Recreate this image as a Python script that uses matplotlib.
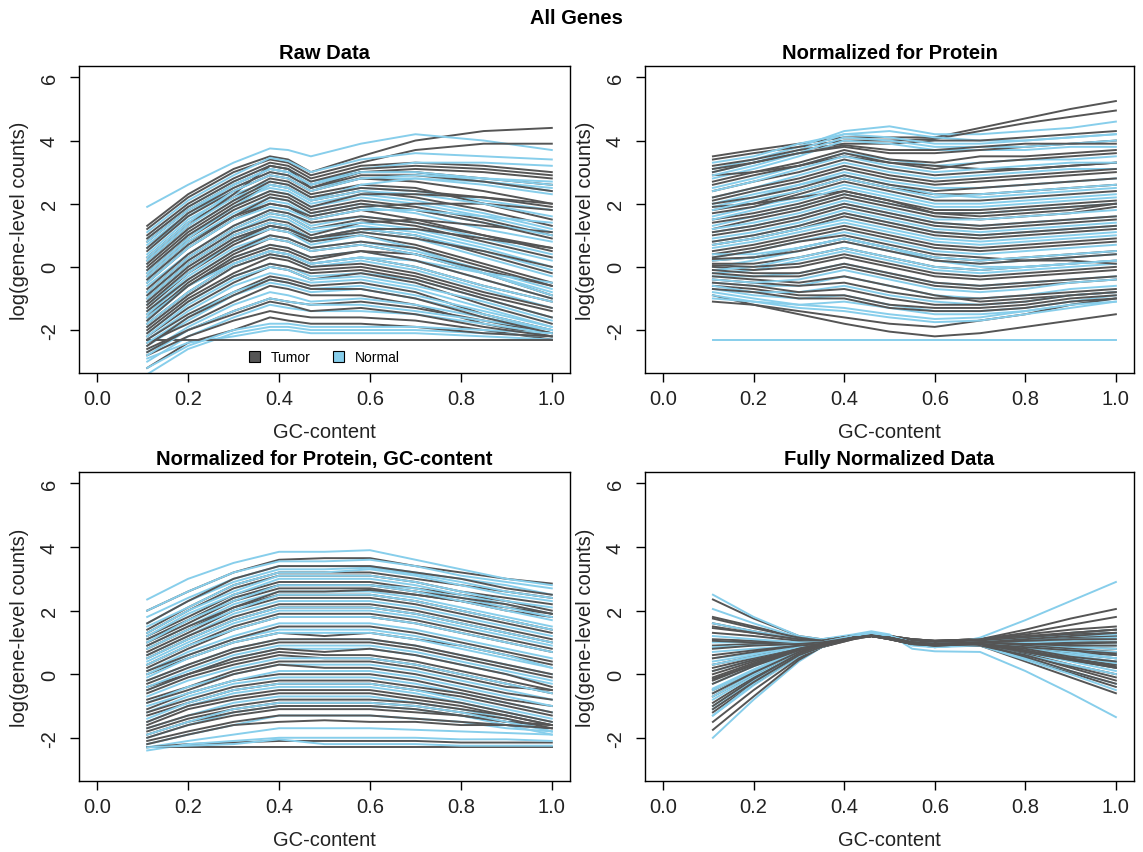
import matplotlib
matplotlib.use("Agg")
import matplotlib.pyplot as plt
from matplotlib.patches import Patch

plt.rcParams['font.family'] = ['Liberation Sans', 'DejaVu Sans']

TUMOR_COLOR = "#555555"
NORMAL_COLOR = "#87CEEB"

# ---------------- Raw Data ----------------
raw_x = [0.11, 0.2, 0.3, 0.38, 0.42, 0.47, 0.58, 0.7, 0.85, 1.0]
raw_tumor = [
    [1.3, 2.3, 3.1, 3.5, 3.4, 3.0, 3.5, 4.0, 4.3, 4.4],
    [1.2, 2.2, 3.0, 3.4, 3.3, 2.9, 3.3, 3.7, 3.9, 3.9],
    [1.0, 2.0, 2.8, 3.3, 3.2, 2.8, 3.2, 3.3, 3.2, 3.0],
    [0.8, 1.8, 2.6, 3.1, 3.0, 2.6, 3.0, 3.1, 3.0, 2.8],
    [0.5, 1.6, 2.4, 2.9, 2.8, 2.4, 2.8, 2.7, 2.4, 2.0],
    [0.3, 1.4, 2.2, 2.8, 2.7, 2.3, 2.6, 2.5, 2.0, 1.5],
    [0.0, 1.1, 2.0, 2.6, 2.5, 2.1, 2.4, 2.2, 1.8, 1.3],
    [-0.2, 0.9, 1.8, 2.3, 2.2, 1.8, 2.1, 1.9, 1.5, 1.0],
    [-0.5, 0.6, 1.5, 2.0, 1.9, 1.5, 1.8, 1.5, 1.0, 0.5],
    [-0.8, 0.3, 1.2, 1.7, 1.6, 1.2, 1.5, 1.3, 0.8, 0.3],
    [-1.0, 0.1, 1.0, 1.4, 1.3, 0.9, 1.2, 1.0, 0.4, -0.2],
    [-1.3, -0.2, 0.7, 1.2, 1.1, 0.8, 1.0, 0.7, 0.1, -0.5],
    [-1.6, -0.5, 0.4, 0.9, 0.8, 0.5, 0.7, 0.4, -0.2, -0.9],
    [-1.8, -0.8, 0.1, 0.5, 0.4, 0.1, 0.3, 0.0, -0.6, -1.1],
    [-2.0, -1.0, -0.2, 0.3, 0.2, -0.1, 0.0, -0.3, -0.9, -1.4],
    [-2.2, -1.3, -0.5, 0.0, -0.1, -0.4, -0.2, -0.5, -1.2, -1.8],
    [-2.3, -1.5, -0.8, -0.3, -0.4, -0.6, -0.5, -0.8, -1.5, -2.0],
    [-2.4, -1.8, -1.1, -0.6, -0.7, -0.9, -0.9, -1.2, -1.8, -2.2],
    [-2.6, -2.0, -1.4, -1.0, -1.1, -1.2, -1.1, -1.3, -1.7, -2.1],
    [-2.8, -2.2, -1.7, -1.4, -1.5, -1.6, -1.6, -1.7, -2.0, -2.3],
    [-3.2, -2.4, -2.0, -1.6, -1.7, -1.8, -1.8, -1.9, -2.1, -2.2],
    [-2.3, -2.3, -2.3, -2.3, -2.3, -2.3, -2.3, -2.3, -2.3, -2.3],
    [0.2, 1.3, 2.3, 3.2, 3.1, 2.5, 3.0, 3.0, 2.8, 2.6],
    [-0.9, 0.2, 1.1, 1.5, 1.4, 1.0, 1.4, 1.5, 1.3, 1.1],
    [-1.5, -0.6, 0.2, 0.6, 0.5, 0.2, 0.5, 0.4, -0.1, -0.6],
    [-0.3, 0.8, 1.6, 2.0, 1.9, 1.6, 1.9, 2.0, 2.0, 1.8],
    [0.6, 1.7, 2.5, 3.0, 2.9, 2.5, 2.9, 2.9, 2.7, 2.4],
    [0.1, 1.2, 2.1, 2.7, 2.6, 2.2, 2.5, 2.4, 2.2, 1.9],
    [-0.4, 0.7, 1.6, 2.2, 2.1, 1.7, 2.0, 1.8, 1.4, 0.9],
    [-0.7, 0.4, 1.3, 1.8, 1.7, 1.4, 1.6, 1.4, 1.0, 0.6],
    [-1.1, 0.0, 0.9, 1.3, 1.2, 0.9, 1.1, 0.9, 0.5, 0.0],
    [-1.4, -0.4, 0.5, 1.0, 0.9, 0.6, 0.8, 0.6, 0.0, -0.6],
    [-1.7, -0.6, 0.3, 0.7, 0.6, 0.3, 0.5, 0.2, -0.4, -1.0],
    [-1.9, -0.9, 0.0, 0.4, 0.3, 0.0, 0.1, -0.2, -0.8, -1.3],
    [-2.1, -1.1, -0.3, 0.1, 0.0, -0.2, -0.1, -0.4, -1.0, -1.6],
    [-2.5, -1.6, -0.9, -0.4, -0.5, -0.7, -0.7, -1.0, -1.6, -2.1],
    [-2.7, -2.0, -1.5, -1.1, -1.2, -1.4, -1.3, -1.5, -1.9, -2.2],
    [0.9, 1.9, 2.7, 3.2, 3.1, 2.7, 3.1, 3.2, 3.1, 2.9],
    [-0.1, 1.0, 1.9, 2.4, 2.3, 1.9, 2.3, 2.3, 2.2, 2.0],
    [-1.2, -0.1, 0.8, 1.3, 1.2, 0.9, 1.2, 1.2, 0.9, 0.6],
]
raw_normal = [
    [1.9, 2.6, 3.3, 3.75, 3.7, 3.5, 3.9, 4.2, 4.0, 3.7],
    [1.1, 2.1, 2.9, 3.45, 3.35, 3.0, 3.4, 3.6, 3.5, 3.4],
    [0.9, 1.9, 2.7, 3.2, 3.1, 2.7, 3.0, 3.0, 2.7, 2.4],
    [0.6, 1.6, 2.5, 3.0, 2.9, 2.5, 2.8, 2.8, 2.6, 2.3],
    [0.4, 1.5, 2.3, 2.7, 2.6, 2.2, 2.5, 2.4, 2.1, 1.8],
    [0.1, 1.2, 2.1, 2.5, 2.4, 2.0, 2.3, 2.1, 1.7, 1.2],
    [-0.1, 1.0, 1.9, 2.4, 2.3, 1.9, 2.2, 2.0, 1.6, 1.1],
    [-0.4, 0.7, 1.6, 2.1, 2.0, 1.6, 1.9, 1.7, 1.2, 0.8],
    [-0.6, 0.4, 1.3, 1.8, 1.7, 1.3, 1.6, 1.4, 0.9, 0.4],
    [-0.9, 0.2, 1.1, 1.6, 1.5, 1.1, 1.3, 1.1, 0.6, 0.0],
    [-1.1, 0.0, 0.9, 1.3, 1.2, 0.8, 1.1, 0.9, 0.3, -0.3],
    [-1.4, -0.3, 0.6, 1.0, 0.9, 0.6, 0.8, 0.5, -0.1, -0.7],
    [-1.7, -0.6, 0.3, 0.7, 0.6, 0.3, 0.5, 0.2, -0.4, -1.0],
    [-1.9, -0.9, 0.0, 0.4, 0.3, 0.0, 0.2, -0.1, -0.7, -1.3],
    [-2.1, -1.1, -0.3, 0.1, 0.0, -0.3, -0.2, -0.4, -1.0, -1.6],
    [-2.3, -1.4, -0.6, -0.2, -0.3, -0.5, -0.4, -0.7, -1.3, -1.9],
    [-2.5, -1.7, -0.9, -0.5, -0.6, -0.8, -0.7, -1.0, -1.5, -2.0],
    [-2.7, -1.9, -1.2, -0.8, -0.9, -1.1, -1.0, -1.2, -1.6, -2.0],
    [-3.0, -2.2, -1.6, -1.2, -1.3, -1.4, -1.4, -1.5, -1.8, -2.1],
    [-3.4, -2.6, -2.1, -1.9, -1.9, -2.0, -2.0, -2.0, -2.1, -2.2],
    [-2.9, -2.4, -2.2, -2.0, -2.0, -2.1, -2.1, -2.1, -2.2, -2.3],
    [-0.2, 0.9, 1.9, 2.6, 2.5, 2.1, 2.6, 2.8, 2.7, 2.5],
    [-1.2, -0.2, 0.8, 1.2, 1.1, 0.7, 1.0, 0.6, -0.2, -0.9],
    [0.7, 1.7, 2.6, 3.1, 3.0, 2.6, 3.1, 3.3, 3.3, 3.2],
    [-1.6, -0.6, 0.1, 0.5, 0.4, 0.1, 0.3, 0.2, -0.2, -0.5],
    [0.8, 1.8, 2.6, 3.1, 3.0, 2.6, 3.0, 3.0, 2.8, 2.6],
    [0.2, 1.3, 2.2, 2.6, 2.5, 2.1, 2.4, 2.3, 2.0, 1.6],
    [-0.3, 0.8, 1.7, 2.2, 2.1, 1.7, 2.0, 1.8, 1.4, 1.0],
    [-0.8, 0.3, 1.2, 1.7, 1.6, 1.2, 1.4, 1.2, 0.7, 0.2],
    [-1.0, 0.1, 1.0, 1.4, 1.3, 0.9, 1.2, 1.0, 0.5, -0.1],
    [-1.5, -0.4, 0.5, 0.9, 0.8, 0.5, 0.7, 0.4, -0.2, -0.8],
    [-1.8, -0.8, 0.1, 0.5, 0.4, 0.1, 0.3, 0.0, -0.6, -1.1],
    [-2.2, -1.2, -0.4, 0.0, -0.1, -0.4, -0.3, -0.6, -1.1, -1.7],
    [-2.4, -1.6, -0.8, -0.4, -0.5, -0.7, -0.6, -0.9, -1.4, -1.9],
    [-2.8, -2.0, -1.4, -1.0, -1.1, -1.2, -1.2, -1.4, -1.7, -2.0],
    [-3.2, -2.5, -2.0, -1.8, -1.8, -1.9, -1.9, -1.9, -2.0, -2.1],
    [0.3, 1.4, 2.4, 2.9, 2.8, 2.4, 2.8, 2.9, 2.8, 2.7],
    [-0.5, 0.6, 1.5, 1.9, 1.8, 1.5, 1.8, 1.8, 1.6, 1.4],
]

# ---------------- Normalized for Protein ----------------
prot_x = [0.11, 0.2, 0.3, 0.4, 0.5, 0.6, 0.7, 0.8, 0.9, 1.0]
prot_tumor = [
    [3.5, 3.7, 3.9, 4.1, 4.1, 4.1, 4.4, 4.7, 5.0, 5.25],
    [3.4, 3.6, 3.8, 4.0, 4.0, 4.05, 4.3, 4.55, 4.75, 4.95],
    [3.2, 3.4, 3.7, 3.9, 3.9, 4.0, 4.0, 4.1, 4.2, 4.3],
    [3.0, 3.3, 3.6, 3.8, 3.6, 3.6, 3.7, 3.8, 3.9, 4.0],
    [2.7, 3.0, 3.3, 3.7, 3.4, 3.3, 3.5, 3.5, 3.6, 3.7],
    [2.4, 2.7, 3.0, 3.4, 3.1, 2.9, 3.0, 3.1, 3.2, 3.3],
    [2.1, 2.4, 2.7, 3.1, 2.8, 2.6, 2.7, 2.8, 2.9, 3.0],
    [1.8, 2.0, 2.4, 2.8, 2.5, 2.3, 2.3, 2.4, 2.5, 2.6],
    [1.5, 1.7, 2.0, 2.4, 2.1, 1.8, 1.8, 1.9, 2.0, 2.1],
    [1.2, 1.5, 1.8, 2.2, 1.9, 1.6, 1.5, 1.6, 1.7, 1.9],
    [1.0, 1.2, 1.5, 1.9, 1.6, 1.3, 1.2, 1.3, 1.4, 1.5],
    [0.7, 0.9, 1.2, 1.6, 1.3, 1.0, 0.9, 1.0, 1.1, 1.2],
    [0.4, 0.6, 0.9, 1.2, 0.9, 0.6, 0.5, 0.6, 0.7, 0.8],
    [0.2, 0.3, 0.6, 0.9, 0.6, 0.3, 0.2, 0.3, 0.4, 0.5],
    [0.1, 0.1, 0.3, 0.6, 0.3, 0.0, -0.1, 0.0, 0.1, 0.2],
    [0.0, -0.1, 0.0, 0.3, 0.0, -0.3, -0.4, -0.3, -0.2, -0.1],
    [-0.2, -0.3, -0.3, 0.0, -0.3, -0.6, -0.7, -0.6, -0.5, -0.4],
    [-0.4, -0.5, -0.6, -0.5, -0.8, -1.0, -1.0, -0.9, -0.8, -0.7],
    [-0.6, -0.7, -0.9, -0.9, -1.2, -1.3, -1.3, -1.2, -1.0, -0.9],
    [-0.9, -1.2, -1.5, -1.8, -2.05, -2.2, -2.1, -1.9, -1.7, -1.5],
    [-1.1, -1.2, -1.4, -1.6, -1.8, -1.9, -1.7, -1.5, -1.2, -1.0],
    [2.9, 3.0, 3.2, 3.5, 3.3, 3.2, 3.1, 3.1, 3.2, 3.3],
    [1.9, 2.0, 2.2, 2.4, 2.1, 1.7, 1.6, 1.7, 1.8, 2.0],
    [0.3, 0.5, 0.8, 1.0, 0.7, 0.4, 0.3, 0.2, 0.2, 0.1],
    [-0.3, -0.4, -0.5, -0.3, -0.6, -0.9, -1.1, -1.0, -0.9, -0.8],
    [3.1, 3.3, 3.6, 3.85, 3.7, 3.7, 3.8, 3.9, 3.9, 3.9],
    [2.6, 2.9, 3.2, 3.6, 3.3, 3.1, 3.3, 3.4, 3.5, 3.6],
    [2.2, 2.5, 2.8, 3.2, 2.9, 2.7, 2.8, 2.9, 3.0, 3.1],
    [1.7, 1.9, 2.3, 2.7, 2.4, 2.1, 2.1, 2.2, 2.3, 2.4],
    [1.4, 1.6, 1.9, 2.3, 2.0, 1.7, 1.7, 1.8, 1.9, 2.0],
    [1.1, 1.3, 1.6, 2.0, 1.7, 1.4, 1.3, 1.4, 1.5, 1.6],
    [0.8, 1.0, 1.3, 1.7, 1.4, 1.1, 1.0, 1.1, 1.2, 1.3],
    [0.5, 0.7, 1.0, 1.3, 1.0, 0.7, 0.6, 0.7, 0.8, 0.9],
    [0.25, 0.3, 0.5, 0.8, 0.5, 0.2, 0.1, 0.2, 0.3, 0.4],
    [0.05, 0.0, 0.1, 0.4, 0.1, -0.2, -0.3, -0.2, -0.1, 0.0],
    [-0.1, -0.2, -0.2, 0.1, -0.2, -0.5, -0.6, -0.5, -0.4, -0.3],
    [-0.5, -0.6, -0.8, -0.7, -1.0, -1.2, -1.2, -1.1, -0.9, -0.8],
    [-0.7, -0.8, -1.0, -1.0, -1.3, -1.4, -1.4, -1.3, -1.1, -1.0],
    [2.0, 2.2, 2.5, 2.9, 2.6, 2.4, 2.5, 2.6, 2.7, 2.8],
]
prot_normal = [
    [3.1, 3.4, 3.8, 4.3, 4.45, 4.2, 4.2, 4.3, 4.4, 4.6],
    [3.0, 3.3, 3.7, 4.2, 4.3, 4.1, 4.0, 4.0, 4.1, 4.2],
    [2.8, 3.1, 3.5, 4.0, 3.9, 3.7, 3.7, 3.7, 3.8, 3.8],
    [2.5, 2.8, 3.2, 3.6, 3.4, 3.2, 3.3, 3.4, 3.4, 3.5],
    [2.2, 2.5, 2.9, 3.3, 3.0, 2.8, 2.9, 3.0, 3.1, 3.1],
    [1.9, 2.2, 2.6, 3.0, 2.7, 2.5, 2.5, 2.6, 2.7, 2.8],
    [1.6, 1.9, 2.2, 2.6, 2.3, 2.0, 2.0, 2.1, 2.2, 2.3],
    [1.3, 1.6, 1.9, 2.3, 2.0, 1.7, 1.7, 1.8, 1.9, 2.0],
    [1.1, 1.3, 1.6, 2.0, 1.7, 1.4, 1.3, 1.4, 1.5, 1.6],
    [0.8, 1.0, 1.3, 1.7, 1.4, 1.1, 1.0, 1.1, 1.2, 1.3],
    [0.6, 0.8, 1.1, 1.4, 1.1, 0.8, 0.7, 0.8, 0.9, 1.0],
    [0.3, 0.5, 0.8, 1.1, 0.8, 0.5, 0.4, 0.5, 0.6, 0.7],
    [0.0, 0.2, 0.5, 0.8, 0.5, 0.2, 0.1, 0.2, 0.3, 0.4],
    [-0.2, -0.1, 0.2, 0.5, 0.2, -0.1, -0.2, -0.1, 0.0, 0.1],
    [-0.3, -0.3, -0.2, 0.1, -0.2, -0.5, -0.6, -0.5, -0.4, -0.3],
    [-0.5, -0.6, -0.6, -0.3, -0.6, -0.9, -1.0, -0.9, -0.7, -0.6],
    [-0.7, -0.9, -1.0, -0.9, -1.2, -1.4, -1.4, -1.3, -1.1, -0.9],
    [-0.8, -1.0, -1.2, -1.3, -1.5, -1.65, -1.6, -1.4, -1.2, -1.0],
    [-2.3, -2.3, -2.3, -2.3, -2.3, -2.3, -2.3, -2.3, -2.3, -2.3],
    [2.0, 2.3, 2.6, 2.9, 2.6, 2.3, 2.2, 2.3, 2.4, 2.5],
    [0.4, 0.4, 0.6, 0.9, 0.6, 0.2, 0.0, 0.0, 0.1, 0.2],
    [-1.0, -1.1, -1.2, -1.1, -1.3, -1.5, -1.5, -1.4, -1.2, -1.1],
    [3.3, 3.5, 3.9, 4.2, 4.1, 3.9, 3.9, 4.0, 4.1, 4.2],
    [2.9, 3.2, 3.6, 4.1, 4.0, 3.8, 3.8, 3.8, 3.9, 4.0],
    [2.4, 2.7, 3.1, 3.5, 3.2, 3.0, 3.1, 3.2, 3.3, 3.3],
    [1.8, 2.1, 2.4, 2.8, 2.5, 2.2, 2.3, 2.4, 2.5, 2.6],
    [1.5, 1.8, 2.1, 2.5, 2.2, 1.9, 1.9, 2.0, 2.1, 2.2],
    [1.2, 1.4, 1.7, 2.1, 1.8, 1.5, 1.5, 1.6, 1.7, 1.8],
    [0.9, 1.1, 1.4, 1.8, 1.5, 1.2, 1.1, 1.2, 1.3, 1.4],
    [0.7, 0.9, 1.2, 1.5, 1.2, 0.9, 0.8, 0.9, 1.0, 1.1],
    [0.2, 0.3, 0.6, 0.9, 0.6, 0.3, 0.2, 0.3, 0.4, 0.5],
    [-0.1, 0.0, 0.3, 0.6, 0.3, 0.0, -0.1, 0.0, 0.1, 0.2],
    [-0.4, -0.5, -0.4, -0.1, -0.4, -0.7, -0.8, -0.7, -0.5, -0.4],
    [-0.6, -0.8, -0.8, -0.6, -0.9, -1.1, -1.2, -1.1, -0.9, -0.8],
    [-0.9, -1.1, -1.3, -1.4, -1.6, -1.75, -1.7, -1.5, -1.3, -1.1],
]

# ---------------- Normalized for Protein, GC-content ----------------
gc_x = [0.11, 0.2, 0.3, 0.4, 0.5, 0.6, 0.7, 0.8, 0.9, 1.0]
gc_tumor = [
    [2.0, 2.6, 3.2, 3.6, 3.65, 3.65, 3.4, 3.2, 3.0, 2.85],
    [1.4, 2.1, 2.8, 3.2, 3.2, 3.2, 3.0, 2.8, 2.6, 2.4],
    [1.2, 1.8, 2.5, 2.9, 2.9, 2.9, 2.7, 2.5, 2.3, 2.0],
    [1.0, 1.6, 2.3, 2.7, 2.7, 2.7, 2.5, 2.3, 2.0, 1.8],
    [0.7, 1.3, 2.0, 2.4, 2.4, 2.4, 2.2, 1.9, 1.6, 1.3],
    [0.5, 1.1, 1.7, 2.1, 2.1, 2.1, 1.9, 1.6, 1.3, 1.0],
    [0.2, 0.8, 1.4, 1.8, 1.8, 1.8, 1.6, 1.3, 1.0, 0.7],
    [0.0, 0.5, 1.0, 1.3, 1.2, 1.3, 1.1, 0.9, 0.6, 0.3],
    [-0.3, 0.2, 0.7, 1.0, 1.0, 1.0, 0.8, 0.5, 0.2, -0.1],
    [-0.6, -0.1, 0.3, 0.6, 0.5, 0.5, 0.3, 0.0, -0.3, -0.6],
    [-0.8, -0.4, 0.1, 0.4, 0.4, 0.4, 0.2, -0.1, -0.4, -0.5],
    [-1.1, -0.6, -0.2, 0.0, 0.0, 0.0, -0.2, -0.5, -0.8, -1.0],
    [-1.3, -0.9, -0.5, -0.3, -0.3, -0.3, -0.5, -0.7, -1.0, -1.3],
    [-1.6, -1.1, -0.8, -0.6, -0.6, -0.6, -0.8, -1.0, -1.3, -1.6],
    [-1.8, -1.4, -1.1, -0.9, -0.9, -0.9, -1.0, -1.2, -1.4, -1.7],
    [-2.0, -1.6, -1.3, -1.1, -1.1, -1.1, -1.2, -1.3, -1.5, -1.6],
    [-2.2, -1.9, -1.6, -1.5, -1.45, -1.5, -1.5, -1.6, -1.6, -1.7],
    [-2.3, -2.2, -2.15, -2.1, -2.1, -2.1, -2.1, -2.15, -2.15, -2.15],
    [-2.3, -2.3, -2.3, -2.3, -2.3, -2.3, -2.3, -2.3, -2.3, -2.3],
    [0.9, 1.5, 2.1, 2.6, 2.6, 2.65, 2.5, 2.3, 2.1, 1.9],
    [-0.4, 0.0, 0.5, 0.8, 0.7, 0.8, 0.6, 0.3, 0.0, -0.4],
    [1.3, 2.0, 2.7, 3.1, 3.1, 3.1, 2.9, 2.6, 2.4, 2.2],
    [-1.9, -1.5, -1.2, -1.0, -1.0, -1.0, -1.1, -1.3, -1.5, -1.6],
    [1.6, 2.3, 3.0, 3.4, 3.4, 3.4, 3.2, 3.0, 2.7, 2.5],
    [1.1, 1.7, 2.4, 2.8, 2.8, 2.8, 2.6, 2.4, 2.2, 1.9],
    [0.8, 1.4, 2.1, 2.5, 2.5, 2.5, 2.3, 2.0, 1.7, 1.4],
    [0.6, 1.2, 1.8, 2.2, 2.2, 2.2, 2.0, 1.7, 1.4, 1.1],
    [0.3, 0.9, 1.5, 1.9, 1.9, 1.9, 1.7, 1.4, 1.1, 0.8],
    [0.1, 0.6, 1.1, 1.5, 1.5, 1.5, 1.3, 1.0, 0.7, 0.4],
    [-0.2, 0.3, 0.8, 1.1, 1.1, 1.1, 0.9, 0.6, 0.3, 0.0],
    [-0.5, 0.0, 0.4, 0.7, 0.6, 0.6, 0.4, 0.1, -0.2, -0.5],
    [-0.9, -0.5, 0.0, 0.3, 0.2, 0.2, 0.0, -0.3, -0.6, -0.8],
    [-1.2, -0.8, -0.4, -0.2, -0.2, -0.2, -0.4, -0.6, -0.9, -1.2],
    [-1.5, -1.0, -0.7, -0.5, -0.5, -0.5, -0.7, -0.9, -1.2, -1.5],
    [-1.7, -1.3, -1.0, -0.8, -0.8, -0.8, -0.9, -1.1, -1.3, -1.6],
    [-2.1, -1.8, -1.5, -1.3, -1.3, -1.3, -1.4, -1.5, -1.6, -1.7],
]
gc_normal = [
    [2.35, 3.0, 3.5, 3.85, 3.85, 3.9, 3.6, 3.3, 3.0, 2.8],
    [1.8, 2.4, 3.0, 3.4, 3.4, 3.4, 3.2, 3.0, 2.8, 2.5],
    [1.5, 2.1, 2.8, 3.2, 3.2, 3.3, 3.1, 2.8, 2.5, 2.3],
    [1.2, 1.9, 2.5, 3.0, 3.0, 3.0, 2.8, 2.5, 2.2, 1.9],
    [0.9, 1.5, 2.2, 2.6, 2.6, 2.6, 2.4, 2.1, 1.8, 1.5],
    [0.6, 1.2, 1.9, 2.3, 2.3, 2.3, 2.1, 1.8, 1.5, 1.2],
    [0.4, 1.0, 1.6, 2.0, 2.0, 2.0, 1.8, 1.5, 1.2, 0.9],
    [0.1, 0.7, 1.2, 1.6, 1.6, 1.6, 1.4, 1.1, 0.8, 0.5],
    [-0.2, 0.3, 0.8, 1.1, 1.1, 1.1, 0.9, 0.6, 0.3, 0.0],
    [-0.5, 0.0, 0.5, 0.8, 0.8, 0.8, 0.6, 0.3, 0.0, -0.3],
    [-0.9, -0.4, 0.0, 0.3, 0.3, 0.3, 0.1, -0.2, -0.5, -0.8],
    [-1.2, -0.7, -0.3, -0.1, -0.1, -0.1, -0.3, -0.6, -0.9, -1.2],
    [-1.5, -1.0, -0.6, -0.4, -0.4, -0.4, -0.6, -0.9, -1.2, -1.5],
    [-1.7, -1.3, -0.9, -0.7, -0.7, -0.7, -0.9, -1.1, -1.4, -1.8],
    [-2.0, -1.6, -1.2, -1.0, -1.0, -1.0, -1.1, -1.3, -1.6, -1.9],
    [-2.2, -1.9, -1.6, -1.3, -1.3, -1.3, -1.4, -1.5, -1.7, -1.8],
    [-2.3, -2.1, -1.9, -1.7, -1.7, -1.7, -1.75, -1.8, -1.85, -1.9],
    [-2.4, -2.2, -2.1, -2.0, -2.0, -2.0, -2.0, -2.05, -2.05, -2.1],
    [-2.3, -2.25, -2.2, -2.05, -2.2, -2.2, -2.2, -2.25, -2.25, -2.25],
    [0.0, 0.6, 1.1, 1.4, 1.4, 1.4, 1.2, 0.9, 0.6, 0.2],
    [1.1, 1.7, 2.4, 2.8, 2.8, 2.8, 2.7, 2.4, 2.1, 1.8],
    [2.0, 2.6, 3.2, 3.55, 3.55, 3.6, 3.4, 3.1, 2.9, 2.7],
    [1.6, 2.3, 2.9, 3.3, 3.3, 3.35, 3.15, 2.9, 2.6, 2.4],
    [1.3, 2.0, 2.6, 3.1, 3.1, 3.1, 2.9, 2.6, 2.3, 2.1],
    [1.0, 1.7, 2.3, 2.8, 2.8, 2.8, 2.6, 2.3, 2.0, 1.7],
    [0.8, 1.4, 2.0, 2.5, 2.5, 2.5, 2.3, 2.0, 1.7, 1.4],
    [0.5, 1.1, 1.7, 2.1, 2.1, 2.1, 1.9, 1.6, 1.3, 1.0],
    [0.3, 0.9, 1.4, 1.8, 1.8, 1.8, 1.6, 1.3, 1.0, 0.7],
    [-0.1, 0.5, 1.0, 1.3, 1.3, 1.3, 1.1, 0.8, 0.5, 0.2],
    [-0.4, 0.1, 0.6, 0.9, 0.9, 0.9, 0.7, 0.4, 0.1, -0.2],
    [-0.7, -0.2, 0.2, 0.5, 0.5, 0.5, 0.3, 0.0, -0.3, -0.6],
    [-1.0, -0.6, -0.2, 0.1, 0.1, 0.1, -0.1, -0.4, -0.7, -1.0],
    [-1.4, -0.9, -0.5, -0.3, -0.3, -0.3, -0.5, -0.8, -1.1, -1.4],
    [-1.9, -1.5, -1.1, -0.9, -0.9, -0.9, -1.0, -1.2, -1.5, -1.8],
]

# ---------------- Fully Normalized Data ----------------
full_x = [0.11, 0.2, 0.3, 0.35, 0.42, 0.46, 0.5, 0.55, 0.6, 0.7, 0.8, 0.9, 1.0]
full_tumor = [
    [2.35, 1.75, 1.2, 1.1, 1.2, 1.25, 1.2, 1.1, 1.05, 1.1, 1.4, 1.75, 2.05],
    [1.8, 1.5, 1.15, 1.05, 1.2, 1.25, 1.2, 1.1, 1.05, 1.1, 1.3, 1.55, 1.8],
    [1.6, 1.35, 1.1, 1.05, 1.2, 1.25, 1.2, 1.1, 1.05, 1.1, 1.25, 1.4, 1.5],
    [1.45, 1.3, 1.1, 1.05, 1.2, 1.25, 1.15, 1.05, 1.0, 1.05, 1.1, 1.15, 1.2],
    [1.1, 1.05, 1.0, 1.0, 1.15, 1.2, 1.15, 1.05, 1.0, 1.0, 1.0, 1.0, 1.0],
    [0.6, 0.75, 0.9, 0.95, 1.15, 1.2, 1.15, 1.0, 0.95, 0.95, 0.9, 0.85, 0.8],
    [0.3, 0.55, 0.85, 0.95, 1.15, 1.2, 1.15, 1.0, 0.95, 0.95, 0.8, 0.65, 0.5],
    [0.0, 0.4, 0.8, 0.95, 1.15, 1.2, 1.15, 1.0, 0.9, 0.95, 0.75, 0.5, 0.3],
    [-0.2, 0.3, 0.75, 0.9, 1.15, 1.2, 1.15, 1.0, 0.9, 0.9, 0.6, 0.25, -0.1],
    [-0.5, 0.1, 0.7, 0.9, 1.15, 1.2, 1.15, 0.95, 0.9, 0.9, 0.5, 0.05, -0.4],
    [-0.9, -0.1, 0.65, 0.9, 1.15, 1.2, 1.15, 0.95, 0.9, 0.9, 0.4, -0.1, -0.6],
    [-1.2, -0.3, 0.6, 0.85, 1.15, 1.2, 1.1, 0.95, 0.9, 0.95, 0.65, 0.3, 0.0],
    [-1.5, -0.5, 0.5, 0.85, 1.1, 1.2, 1.1, 0.95, 0.9, 0.95, 0.85, 0.7, 0.6],
    [-1.75, -0.7, 0.45, 0.85, 1.1, 1.2, 1.1, 0.95, 0.9, 1.0, 1.0, 1.0, 1.0],
    [0.9, 0.95, 1.0, 1.0, 1.15, 1.2, 1.15, 1.05, 1.0, 1.05, 1.15, 1.3, 1.4],
    [-0.1, 0.35, 0.8, 0.95, 1.15, 1.2, 1.15, 1.0, 0.95, 1.0, 0.95, 0.9, 0.9],
    [0.2, 0.5, 0.85, 0.95, 1.15, 1.2, 1.15, 1.0, 0.95, 0.9, 0.6, 0.2, -0.2],
    [-0.7, 0.0, 0.7, 0.9, 1.15, 1.2, 1.15, 1.0, 0.95, 1.0, 1.05, 1.1, 1.2],
    [1.3, 1.2, 1.05, 1.0, 1.15, 1.2, 1.15, 1.0, 0.95, 0.95, 0.7, 0.45, 0.2],
    [1.75, 1.45, 1.15, 1.05, 1.2, 1.25, 1.2, 1.1, 1.05, 1.1, 1.2, 1.3, 1.4],
    [1.5, 1.3, 1.1, 1.05, 1.2, 1.25, 1.15, 1.05, 1.0, 1.05, 1.15, 1.25, 1.3],
    [1.05, 1.0, 1.0, 1.0, 1.15, 1.2, 1.15, 1.0, 0.95, 1.0, 0.9, 0.8, 0.7],
    [0.5, 0.7, 0.9, 0.95, 1.15, 1.2, 1.15, 1.0, 0.95, 0.95, 0.85, 0.75, 0.65],
    [0.1, 0.45, 0.8, 0.95, 1.15, 1.2, 1.15, 1.0, 0.95, 1.0, 0.95, 0.95, 1.0],
    [-0.3, 0.25, 0.75, 0.9, 1.15, 1.2, 1.15, 1.0, 0.9, 0.95, 0.7, 0.45, 0.2],
    [-0.6, 0.05, 0.7, 0.9, 1.15, 1.2, 1.15, 0.95, 0.9, 0.95, 0.8, 0.55, 0.4],
    [-1.0, -0.15, 0.65, 0.9, 1.15, 1.2, 1.1, 0.95, 0.9, 0.95, 0.55, 0.1, -0.3],
    [-1.1, -0.25, 0.6, 0.85, 1.15, 1.2, 1.1, 0.95, 0.9, 1.0, 1.1, 1.2, 1.3],
    [0.8, 0.9, 0.95, 1.0, 1.15, 1.2, 1.15, 1.0, 0.95, 0.95, 0.75, 0.5, 0.25],
    [-0.15, 0.3, 0.8, 0.95, 1.15, 1.2, 1.15, 1.0, 0.95, 1.0, 1.05, 1.1, 1.1],
]
full_normal = [
    [2.5, 1.8, 1.2, 1.1, 1.25, 1.35, 1.25, 0.8, 0.72, 0.7, 0.1, -0.6, -1.35],
    [2.05, 1.6, 1.15, 1.05, 1.2, 1.3, 1.2, 1.0, 0.95, 1.05, 1.15, 1.25, 1.3],
    [-2.0, -0.8, 0.4, 0.85, 1.2, 1.3, 1.2, 0.9, 0.85, 1.15, 1.7, 2.3, 2.9],
    [1.0, 1.0, 1.0, 1.0, 1.2, 1.3, 1.2, 1.05, 1.0, 1.0, 1.05, 1.1, 1.1],
    [0.7, 0.8, 0.9, 0.95, 1.2, 1.3, 1.2, 1.0, 0.95, 0.95, 0.85, 0.7, 0.6],
    [0.4, 0.6, 0.85, 0.95, 1.2, 1.3, 1.2, 1.0, 0.95, 0.95, 0.95, 0.9, 0.9],
    [0.1, 0.45, 0.8, 0.95, 1.2, 1.3, 1.2, 1.0, 0.9, 0.9, 0.65, 0.45, 0.2],
    [-0.3, 0.25, 0.75, 0.9, 1.2, 1.3, 1.2, 1.0, 0.9, 0.95, 0.8, 0.65, 0.5],
    [-0.6, 0.05, 0.7, 0.9, 1.2, 1.3, 1.2, 1.0, 0.9, 1.0, 1.15, 1.3, 1.4],
    [-1.0, -0.15, 0.65, 0.9, 1.2, 1.3, 1.2, 0.95, 0.85, 0.9, 0.5, 0.1, -0.3],
    [-1.3, -0.35, 0.55, 0.85, 1.2, 1.3, 1.2, 0.95, 0.85, 0.95, 0.9, 0.85, 0.8],
    [1.6, 1.35, 1.1, 1.05, 1.2, 1.3, 1.2, 0.95, 0.9, 0.9, 0.6, 0.3, 0.0],
    [-0.8, -0.05, 0.7, 0.9, 1.2, 1.3, 1.2, 0.95, 0.85, 0.95, 1.0, 1.0, 1.0],
    [0.5, 0.65, 0.85, 0.95, 1.2, 1.3, 1.2, 1.0, 0.9, 0.9, 0.45, 0.0, -0.5],
    [-0.45, 0.15, 0.75, 0.9, 1.2, 1.3, 1.2, 1.0, 0.9, 0.95, 0.75, 0.55, 0.35],
    [-1.3, -0.3, 0.6, 0.85, 1.2, 1.3, 1.2, 0.95, 0.85, 0.95, 0.85, 0.7, 0.5],
    [-1.1, -0.2, 0.6, 0.85, 1.2, 1.3, 1.2, 0.95, 0.85, 0.95, 1.0, 1.05, 1.1],
    [-0.7, 0.0, 0.7, 0.9, 1.2, 1.3, 1.2, 0.95, 0.9, 0.95, 0.7, 0.4, 0.1],
    [-0.5, 0.1, 0.7, 0.9, 1.2, 1.3, 1.2, 1.0, 0.9, 1.0, 1.05, 1.1, 1.15],
    [0.3, 0.55, 0.85, 0.95, 1.2, 1.3, 1.2, 1.0, 0.95, 0.95, 0.8, 0.6, 0.4],
    [0.85, 0.9, 0.95, 1.0, 1.2, 1.3, 1.2, 1.0, 0.95, 1.0, 1.1, 1.2, 1.25],
    [1.2, 1.1, 1.0, 1.0, 1.2, 1.3, 1.2, 1.0, 0.95, 0.95, 0.85, 0.75, 0.7],
]

panel_titles = ["Raw Data", "Normalized for Protein",
                "Normalized for Protein, GC-content", "Fully Normalized Data"]
x_ticks = [0.0, 0.2, 0.4, 0.6, 0.8, 1.0]
x_ticklabels = ["0.0", "0.2", "0.4", "0.6", "0.8", "1.0"]
y_ticks = [-2, 0, 2, 4, 6]
y_ticklabels = ["-2", "0", "2", "4", "6"]
legend_labels = ["Tumor", "Normal"]

panels = [
    (raw_x, raw_tumor, raw_normal),
    (prot_x, prot_tumor, prot_normal),
    (gc_x, gc_tumor, gc_normal),
    (full_x, full_tumor, full_normal),
]

W, H = 1143, 853
fig = plt.figure(figsize=(W / 100, H / 100), dpi=100)

# axes boxes in pixel coords: (left, top, right, bottom)
boxes = [(79, 67, 570, 374), (645, 67, 1134, 374),
         (79, 473, 570, 782), (645, 473, 1134, 782)]

FS = 14.5
for (l, t, r, b), title, (xs, tum, nor) in zip(boxes, panel_titles, panels):
    ax = fig.add_axes([l / W, (H - b) / H, (r - l) / W, (b - t) / H])
    n = max(len(tum), len(nor))
    for i in range(n):
        if i < len(tum):
            ax.plot(xs, tum[i], color=TUMOR_COLOR, lw=1.4)
        if i < len(nor):
            ax.plot(xs, nor[i], color=NORMAL_COLOR, lw=1.4)
    ax.set_xlim(-0.04, 1.04)
    ax.set_ylim(-3.36, 6.36)
    ax.set_xticks(x_ticks)
    ax.set_xticklabels(x_ticklabels, fontsize=FS, color="#222222")
    ax.set_yticks(y_ticks)
    ax.set_yticklabels(y_ticklabels, fontsize=FS, rotation=90, va="center",
                       color="#222222")
    ax.tick_params(axis="both", direction="out", length=6.5, width=1.0)
    ax.tick_params(axis="x", pad=5)
    ax.tick_params(axis="y", pad=8)
    for s in ax.spines.values():
        s.set_linewidth(1.0)
    ax.set_xlabel("GC-content", fontsize=FS, labelpad=10, color="#222222")
    ax.set_ylabel("log(gene-level counts)", fontsize=FS, labelpad=8,
                  color="#222222")
    ax.set_title(title, fontsize=FS, fontweight="bold", pad=6)
    if title == "Raw Data":
        handles = [Patch(facecolor=TUMOR_COLOR, edgecolor="black", lw=0.8),
                   Patch(facecolor=NORMAL_COLOR, edgecolor="black", lw=0.8)]
        ax.legend(handles, legend_labels, loc="center",
                  bbox_to_anchor=(0.5, 0.052), ncol=2, frameon=False,
                  fontsize=10, handlelength=0.8, handleheight=0.8,
                  handletextpad=0.8, columnspacing=1.6)

fig.text(576 / W, 1 - 18 / H, "All Genes", ha="center", va="center",
         fontsize=FS, fontweight="bold")

fig.savefig("out.png", dpi=100, facecolor="white")
